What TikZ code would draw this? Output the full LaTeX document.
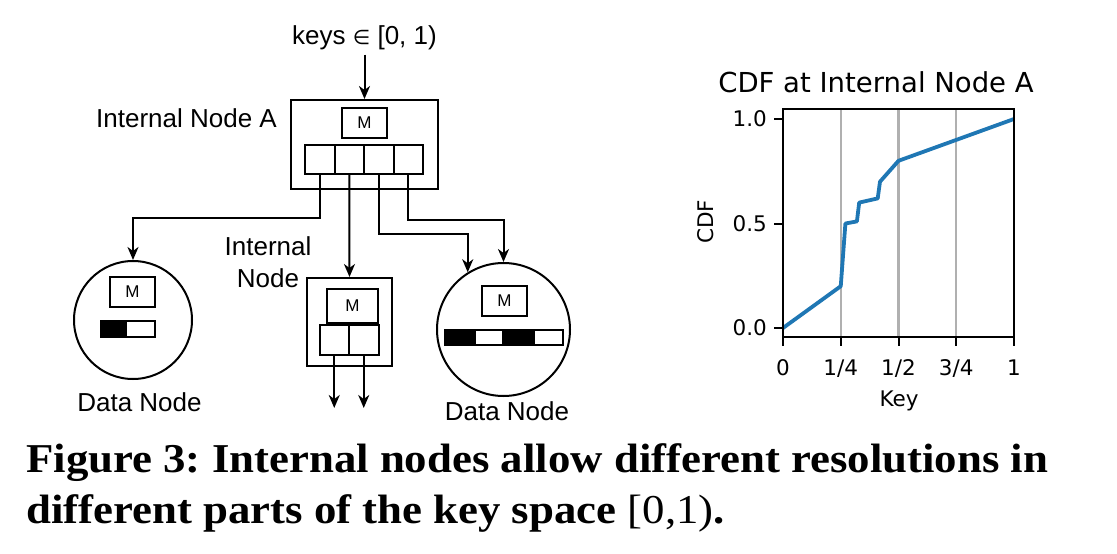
\documentclass[tikz,border=0pt]{standalone}
\usepackage{fontspec}
\usepackage{graphicx}
\setmainfont{Liberation Sans}
\newfontfamily\dvs{DejaVu Sans}
\newfontfamily\capfont{Liberation Serif}
\usetikzlibrary{arrows.meta,calc}
\definecolor{tabblue}{HTML}{1F77B4}
\definecolor{gridgray}{HTML}{B0B0B0}
\newsavebox\capboxone
\frenchspacing
\tikzset{
  lw/.style={line width=2pt},
  arr/.style={lw,-{Stealth[length=13pt,width=11pt,inset=4pt]}},
  outerbox/.style={draw,lw,inner sep=0pt},
  mbox/.style={draw,lw,inner sep=0pt,minimum width=45pt,minimum height=30pt,font=\fontsize{17}{20}\selectfont},
  cell/.style={draw,lw,inner sep=0pt,minimum width=29.5pt,minimum height=29pt},
  seg/.style={draw,lw,inner sep=0pt,minimum height=16pt},
  dnode/.style={draw,lw,circle,inner sep=0pt},
  lbl/.style={inner sep=0pt,font=\fontsize{26}{32}\selectfont},
  axisline/.style={line width=2pt},
  tick/.style={line width=2pt},
  gridl/.style={gridgray,line width=2.2pt},
  ticklbl/.style={inner sep=0pt,font=\dvs\fontsize{21.5}{24}\selectfont},
  caption/.style={inner sep=0pt,anchor=base west,font=\capfont\bfseries\fontsize{41}{51}\selectfont},
}
\begin{document}
\begin{tikzpicture}[x=1pt,y=-1pt]
\useasboundingbox (0,0) rectangle (1117,554);
% ---------------- left diagram ----------------
\node[lbl,anchor=base] (keys) at (364.5,44) {keys {\dvs\fontsize{20}{24}\selectfont ∈} [0, 1)};
\node[outerbox,minimum width=147pt,minimum height=89pt] (A) at (364.5,144.5) {};
\node[mbox] (Am) at (364.5,123) {M};
\node[cell] (a1) at (319.75,159.5) {};
\node[cell] (a2) at (349.25,159.5) {};
\node[cell] (a3) at (378.75,159.5) {};
\node[cell] (a4) at (408.25,159.5) {};
\node[lbl,anchor=base] (Alabel) at (186.5,127) {Internal Node A};
\draw[arr] (keys.south) ++(0,5) coordinate (ks) -- (A.north);

% left data node
\node[dnode,minimum size=118pt] (d1) at (133,320) {};
\node[mbox] (d1m) at (132.5,292) {M};
\node[seg,fill=black,minimum width=25pt] (d1b1) at (113.5,329) {};
\node[seg,minimum width=29pt] (d1b2) at (140.5,329) {};
\node[lbl,anchor=base] (d1label) at (139.5,411) {Data Node};

% middle internal node
\node[outerbox,minimum width=85pt,minimum height=88pt] (I) at (349.5,322) {};
\node[mbox,minimum width=51pt,minimum height=34pt] (Im) at (352.5,306) {M};
\node[cell,minimum width=29.5pt,minimum height=30pt] (c1) at (334.25,340) {};
\node[cell,minimum width=29.5pt,minimum height=30pt] (c2) at (363.75,340) {};
\node[lbl,align=center] (Ilabel) at (268,262) {Internal\\Node};
\coordinate (o1) at (334.25,408);
\coordinate (o2) at (363.75,408);
\draw[arr] (c1.south) -- (o1);
\draw[arr] (c2.south) -- (o2);

% right data node
\node[dnode,minimum size=133pt] (d2) at (503.5,329.5) {};
\node[mbox] (d2m) at (504.5,301) {M};
\node[seg,fill=black,minimum width=30pt,minimum height=15pt] (d2b1) at (460,337.5) {};
\node[seg,minimum width=28pt,minimum height=15pt] (d2b2) at (489,337.5) {};
\node[seg,fill=black,minimum width=31pt,minimum height=15pt] (d2b3) at (518.5,337.5) {};
\node[seg,minimum width=29pt,minimum height=15pt] (d2b4) at (548.5,337.5) {};
\node[lbl,anchor=base] (d2label) at (507,420.5) {Data Node};

% connectors from node A
\draw[arr] (a1.south) -- ++(0,43) -| (d1.north);
\draw[arr] (a2.south) -- (I.north);
\draw[arr] (a3.south) -- ++(0,59) -| (d2.122);
\draw[arr] (a4.south) -- ++(0,45) -| (d2.north);

% ---------------- CDF plot ----------------
\draw[gridl] (840.75,109) -- (840.75,337);
\draw[gridl] (898.5,109) -- (898.5,337);
\draw[gridl] (956.25,109) -- (956.25,337);
\draw[tabblue,line width=3.8pt,line join=round]
  (783,328) -- (840.75,286.2) -- (845.4,223.5) -- (856.9,221.4) -- (859.2,202.6)
  -- (877.7,198.4) -- (880.0,181.7) -- (898.5,160.8) -- (1014,119);
\draw[axisline] (783,109) rectangle (1014,337);
% x ticks
\foreach \x in {783,840.75,898.5,956.25,1014} \draw[tick] (\x,337) -- (\x,346);
\node[ticklbl,anchor=base] (xt0) at (783,375.5) {0};
\node[ticklbl,anchor=base] (xt1) at (840.75,375.5) {1/4};
\node[ticklbl,anchor=base] (xt2) at (898.5,375.5) {1/2};
\node[ticklbl,anchor=base] (xt3) at (956.25,375.5) {3/4};
\node[ticklbl,anchor=base] (xt4) at (1014,375.5) {1};
% y ticks
\foreach \y in {119,223.5,328} \draw[tick] (783,\y) -- (774,\y);
\node[ticklbl,anchor=east] (yt0) at (767,328) {0.0};
\node[ticklbl,anchor=east] (yt1) at (767,223.5) {0.5};
\node[ticklbl,anchor=east] (yt2) at (767,119) {1.0};
\node[ticklbl,anchor=base] (xlab) at (899,406.5) {Key};
\node[ticklbl,rotate=90] (ylab) at (706,222) {CDF};
\node[inner sep=0pt,anchor=base,font=\dvs\fontsize{27.5}{30}\selectfont] (title) at (876,92) {CDF at Internal Node A};

% ---------------- caption ----------------
\node[caption] (cap1) at (26,472) {\frenchspacing\sbox\capboxone{Figure 3: Internal nodes allow different resolutions in}%
  \pgfmathsetmacro\capsx{1022/\the\wd\capboxone}\xdef\capsxg{\capsx}%
  \scalebox{\capsx}[1]{\usebox\capboxone}};
\node[caption] (cap2) at (26,523) {\frenchspacing\scalebox{\capsxg}[1]{different parts of the key space {\mdseries[0,1)}.}};
\end{tikzpicture}
\end{document}
